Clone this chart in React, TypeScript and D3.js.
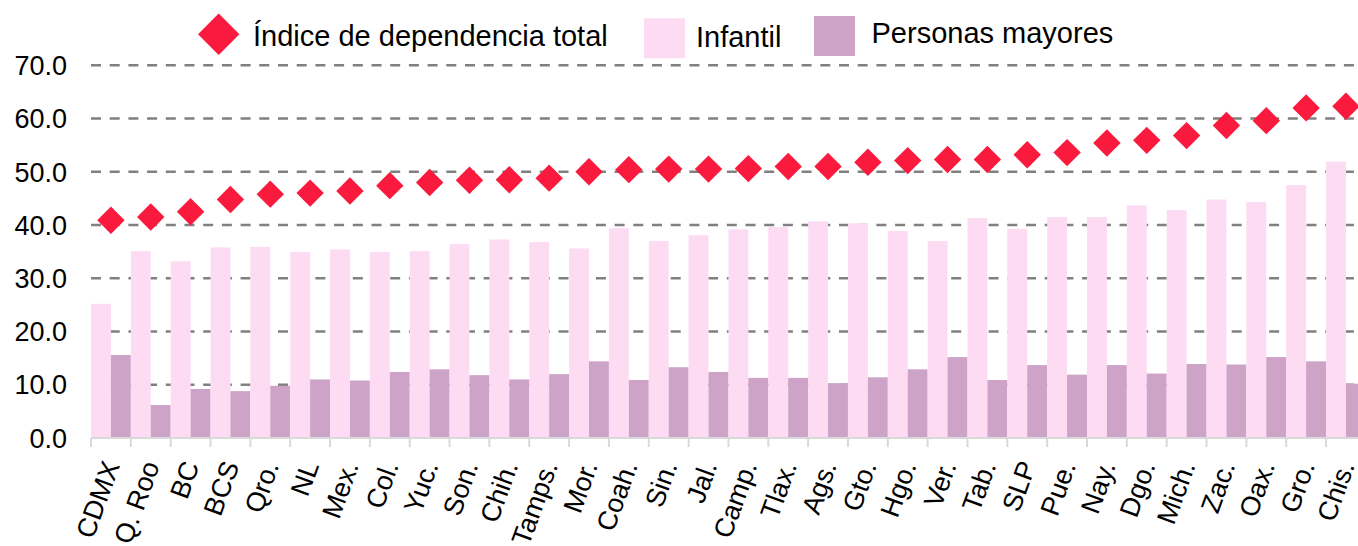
import React from 'react';
import * as d3 from 'd3';

const categories = ['CDMX', 'Q. Roo', 'BC', 'BCS', 'Qro.', 'NL', 'Mex.', 'Col.', 'Yuc.', 'Son.', 'Chih.', 'Tamps.', 'Mor.', 'Coah.', 'Sin.', 'Jal.', 'Camp.', 'Tlax.', 'Ags.', 'Gto.', 'Hgo.', 'Ver.', 'Tab.', 'SLP', 'Pue.', 'Nay.', 'Dgo.', 'Mich.', 'Zac.', 'Oax.', 'Gro.', 'Chis.'];
const totalIndex = [40.9, 41.5, 42.5, 44.8, 45.8, 46.0, 46.4, 47.4, 48.0, 48.4, 48.5, 48.8, 50.0, 50.4, 50.5, 50.5, 50.6, 51.0, 51.0, 51.8, 52.1, 52.3, 52.3, 53.2, 53.6, 55.4, 55.9, 56.8, 58.7, 59.6, 62.0, 62.3];
const infantil = [25.2, 35.1, 33.2, 35.8, 35.9, 34.9, 35.4, 34.9, 35.1, 36.4, 37.3, 36.8, 35.6, 39.4, 37.0, 38.1, 39.2, 39.6, 40.7, 40.3, 38.9, 37.0, 41.3, 39.3, 41.5, 41.5, 43.7, 42.8, 44.8, 44.3, 47.5, 51.9];
const mayores = [15.6, 6.2, 9.2, 8.8, 9.8, 11.0, 10.8, 12.4, 12.9, 11.8, 11.0, 12.0, 14.4, 10.9, 13.3, 12.4, 11.3, 11.3, 10.3, 11.4, 12.9, 15.2, 10.9, 13.7, 11.9, 13.7, 12.1, 13.9, 13.8, 15.2, 14.4, 10.2];
const yTicks = [0, 10, 20, 30, 40, 50, 60, 70];

const W = 1358;
const H = 546;
const RED = '#f91a3d';
const PINK = '#fddcf3';
const PURPLE = '#cda3c8';
const FONT = '"Liberation Sans", Arial, sans-serif';

const diamond = (cx: number, cy: number, r: number) =>
  `M${cx},${cy - r} L${cx + r},${cy} L${cx},${cy + r} L${cx - r},${cy} Z`;

export default function App() {
  const x = d3.scaleBand<string>().domain(categories).range([91, 91 + 32 * 39.84]).padding(0);
  const sub = d3.scaleBand<string>().domain(['inf', 'may']).range([0, x.bandwidth()]).padding(0);
  const y = d3.scaleLinear().domain([0, 70]).range([438, 65.3]);

  return (
    <div style={{ position: 'absolute', left: 0, top: 0, width: W, height: H, overflow: 'hidden', background: '#fff' }}>
      <svg width={W} height={H} style={{ display: 'block', fontFamily: FONT }}>
        {/* grid */}
        {yTicks.filter((t) => t > 0).map((t) => (
          <line key={t} x1={91} x2={W} y1={y(t)} y2={y(t)} stroke="#808080" strokeWidth={2.6} strokeDasharray="10,8.7" />
        ))}
        {/* bars */}
        {categories.map((c, i) => (
          <g key={c}>
            <rect x={x(c)! + sub('inf')!} y={y(infantil[i])} width={sub.bandwidth()} height={y(0) - y(infantil[i])} fill={PINK} />
            <rect x={x(c)! + sub('may')!} y={y(mayores[i])} width={sub.bandwidth()} height={y(0) - y(mayores[i])} fill={PURPLE} />
          </g>
        ))}
        {/* x axis */}
        <line x1={91} x2={W} y1={y(0)} y2={y(0)} stroke="#d9d9d9" strokeWidth={2} />
        {categories.map((c) => (
          <line key={c} x1={x(c)!} x2={x(c)!} y1={y(0)} y2={y(0) + 9} stroke="#d9d9d9" strokeWidth={2} />
        ))}
        {/* diamonds */}
        {categories.map((c, i) => (
          <path key={c} d={diamond(x(c)! + x.bandwidth() / 2, y(totalIndex[i]), 13.7)} fill={RED} />
        ))}
        {/* y labels */}
        {yTicks.map((t) => (
          <text key={t} x={67} y={y(t)} dy="0.36em" textAnchor="end" fontSize={27} fill="#000">
            {t.toFixed(1)}
          </text>
        ))}
        {/* x labels */}
        {categories.map((c) => (
          <text
            key={c}
            transform={`translate(${x(c)! + x.bandwidth() / 2},462) rotate(-70)`}
            textAnchor="end"
            dy="0.36em"
            fontSize={27}
            fill="#000"
          >
            {c}
          </text>
        ))}
        {/* legend */}
        <path d={diamond(218.7, 34.3, 20.7)} fill={RED} />
        <text x={253} y={45.5} fontSize={29} fill="#000">Índice de dependencia total</text>
        <rect x={644} y={18.3} width={41} height={40} fill={PINK} />
        <text x={696} y={47.3} fontSize={29} fill="#000">Infantil</text>
        <rect x={814} y={16} width={41} height={40} fill={PURPLE} />
        <text x={871.5} y={43.3} fontSize={29} fill="#000">Personas mayores</text>
      </svg>
    </div>
  );
}
